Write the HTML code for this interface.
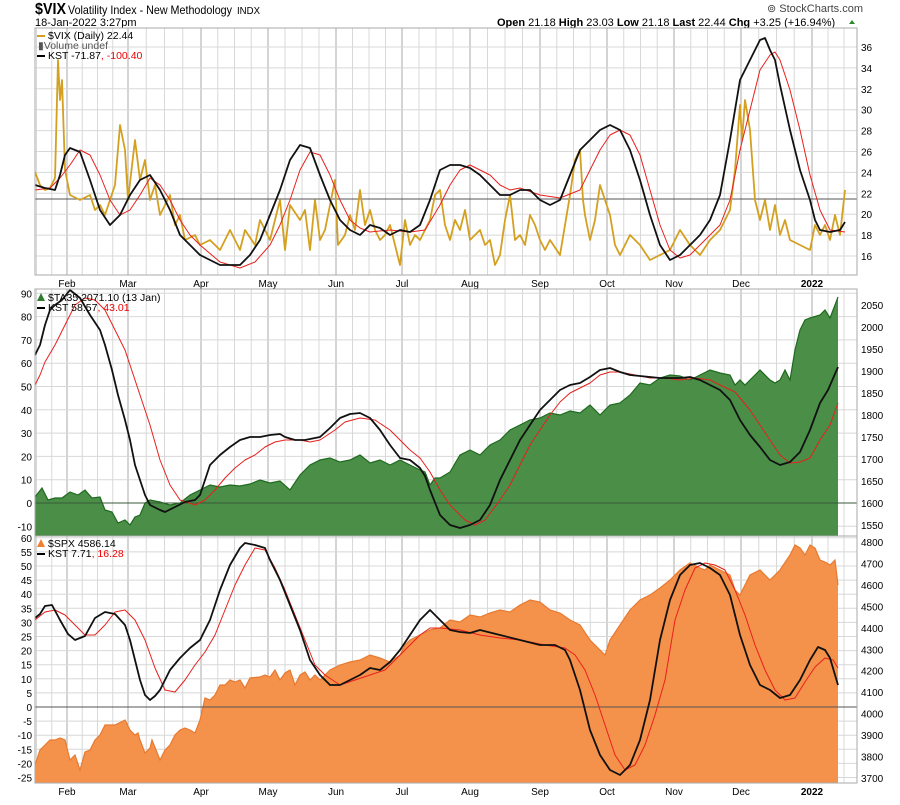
<!DOCTYPE html>
<html><head><meta charset="utf-8"><style>
body{margin:0;background:#fff;width:900px;height:800px;overflow:hidden;font-family:"Liberation Sans",sans-serif}
svg text{font-family:"Liberation Sans",sans-serif}
</style></head><body>
<svg id="s" width="900" height="800" xmlns="http://www.w3.org/2000/svg">
<text x="35" y="14" font-size="16" font-weight="bold" textLength="31" lengthAdjust="spacingAndGlyphs">$VIX</text>
<text x="68" y="14" font-size="12" textLength="164" lengthAdjust="spacingAndGlyphs">Volatility Index - New Methodology</text>
<text x="237" y="14" font-size="10" textLength="23" lengthAdjust="spacingAndGlyphs">INDX</text>
<text x="35" y="26" font-size="11">18-Jan-2022 3:27pm</text>
<text x="767" y="12" font-size="11" fill="#444">⊚ StockCharts.com</text>
<text x="497" y="26" font-size="11"><tspan font-weight="bold">Open</tspan> 21.18  <tspan font-weight="bold">High</tspan> 23.03  <tspan font-weight="bold">Low</tspan> 21.18  <tspan font-weight="bold">Last</tspan> 22.44  <tspan font-weight="bold">Chg</tspan> +3.25 (+16.94%)</text>
<polygon points="849,24 855,24 852,20" fill="#2a8a2a"/>
<g id="grid"></g>
<g id="data"></g>
<g id="fg"></g>
</svg>
<script>
const NS="http://www.w3.org/2000/svg";
function el(p,t,a,txt){const e=document.createElementNS(NS,t);for(const k in a)e.setAttribute(k,a[k]);if(txt!==undefined)e.textContent=txt;document.getElementById(p).appendChild(e);return e;}
const L=35,R=857;
const months=[[67,"Feb"],[128,"Mar"],[201,"Apr"],[268,"May"],[336,"Jun"],[402,"Jul"],[470,"Aug"],[540,"Sep"],[607,"Oct"],[674,"Nov"],[741,"Dec"],[812,"2022"]];
const panels=[[28,275],[289,536],[536,783]];
let mx=[];let prev=6;for(const [x] of months){for(let i=1;i<4;i++)mx.push(prev+(x-prev)*i/4);prev=x;}
for(let i=1;i<3;i++)mx.push(812+i*16);
for(const [t,b] of panels){
 for(const x of mx) if(x>L&&x<R) el("grid","line",{x1:x,x2:x,y1:t,y2:b,stroke:"#d8d8d8","stroke-width":1});
 for(const [x] of months) el("grid","line",{x1:x,x2:x,y1:t,y2:b,stroke:"#a8a8a8","stroke-width":1});
}
function hgrid(t,b,y){if(y>t&&y<b)el("grid","line",{x1:L,x2:R,y1:y,y2:y,stroke:"#d8d8d8"});}
for(let v=16;v<=36;v+=2){const y=256-(v-16)*10.45;hgrid(28,275,y);el("fg","text",{x:861,y:y+4,"font-size":10},v);}
for(let v=-10;v<=90;v+=10){const y=503-v*2.33;hgrid(289,536,y);el("fg","text",{x:32,y:y+4,"font-size":10,"text-anchor":"end"},v);}
for(let v=1550;v<=2050;v+=50){const y=503-(v-1600)*0.44;el("fg","text",{x:861,y:y+4,"font-size":10},v);}
for(let v=-25;v<=60;v+=5){const y=707-v*2.82;hgrid(536,783,y);el("fg","text",{x:32,y:y+4,"font-size":10,"text-anchor":"end"},v);}
for(let v=3700;v<=4800;v+=100){const y=542+(4800-v)*0.2145;el("fg","text",{x:861,y:y+4,"font-size":10},v);}
for(const [x,n] of months){el("fg","text",{x:x,y:287,"font-size":10,"text-anchor":"middle","font-weight":n=="2022"?"bold":"normal"},n);el("fg","text",{x:x,y:795,"font-size":10,"text-anchor":"middle","font-weight":n=="2022"?"bold":"normal"},n);}
function P(s){return s.trim().split(/\)\s*,?\s*\(/).map(p=>p.replace(/[()]/g,"")).join(" ");}
function line(pts,c,w){el("data","polyline",{points:P(pts),fill:"none",stroke:c,"stroke-width":w,"stroke-linejoin":"round"});}
function area(pts,bot,fc,lc){const p=P(pts);const a=p.split(" ");const fx=a[0].split(",")[0],lx=a[a.length-1].split(",")[0];el("data","polygon",{points:fx+","+bot+" "+p+" "+lx+","+bot,fill:fc});el("data","polyline",{points:p,fill:"none",stroke:lc,"stroke-width":1.2});}
el("data","line",{x1:L,x2:R,y1:199,y2:199,stroke:"#555"});
line("(35,172),(40,185),(45,190),(50,188),(55,178),(58,60),(60,100),(62,80),(65,170),(70,195),(80,200),(90,195),(95,210),(100,205),(105,215),(110,200),(115,185),(120,125),(125,150),(128,200),(135,140),(140,180),(145,160),(150,200),(155,185),(160,215),(170,195),(175,225),(180,215),(185,240),(195,235),(200,245),(210,240),(220,250),(230,230),(240,250),(245,230),(255,245),(260,220),(270,240),(280,200),(285,250),(290,205),(300,220),(305,210),(310,250),(315,200),(320,240),(325,230),(330,205),(335,180),(338,245),(345,235),(350,215),(355,230),(360,190),(365,225),(370,210),(375,230),(380,240),(385,235),(390,225),(395,245),(400,265),(405,220),(410,245),(415,235),(420,240),(430,220),(435,195),(440,190),(445,225),(450,240),(455,220),(460,230),(465,210),(470,240),(475,235),(480,230),(485,245),(490,240),(495,265),(500,255),(505,220),(510,195),(515,240),(520,235),(525,245),(530,215),(535,225),(540,240),(545,250),(550,240),(560,255),(570,195),(575,160),(580,150),(583,200),(585,215),(590,240),(595,220),(600,185),(605,200),(610,215),(615,245),(620,255),(630,235),(640,245),(650,260),(660,255),(670,250),(680,230),(690,245),(700,255),(710,240),(720,230),(725,220),(730,210),(735,170),(740,105),(742,140),(745,100),(750,130),(755,200),(760,220),(765,200),(770,230),(775,205),(780,235),(785,220),(790,240),(800,245),(810,250),(815,225),(820,235),(825,225),(830,240),(835,215),(840,235),(845,190)","#d4a020",1.8);
line("(35,190),(50,188),(60,178),(70,165),(80,150),(90,155),(100,175),(110,200),(120,215),(130,210),(140,195),(150,178),(160,185),(170,200),(180,220),(190,235),(200,245),(220,262),(240,268),(255,262),(270,245),(280,225),(290,200),(300,170),(310,152),(320,155),(330,175),(340,200),(350,220),(360,228),(370,232),(390,230),(410,232),(425,230),(440,205),(450,185),(460,170),(470,165),(480,170),(490,175),(500,185),(510,190),(520,188),(540,195),(560,198),(580,190),(590,170),(600,150),(610,135),(620,130),(630,135),(640,155),(650,190),(660,225),(670,250),(680,258),(690,255),(700,245),(710,235),(720,225),(730,200),(740,150),(750,110),(760,70),(770,55),(775,52),(780,60),(790,90),(800,130),(810,175),(820,210),(830,230),(845,232)","#e8201c",1);
line("(35,185),(45,188),(55,190),(60,175),(65,155),(70,148),(80,152),(90,180),(100,210),(110,225),(120,215),(130,195),(140,180),(150,175),(160,190),(170,210),(180,235),(190,245),(200,255),(220,265),(240,265),(250,255),(260,240),(270,215),(280,190),(290,160),(300,145),(310,148),(320,175),(330,200),(340,220),(350,230),(360,235),(370,225),(380,228),(390,235),(400,230),(410,232),(420,225),(430,200),(440,170),(450,165),(460,165),(470,168),(480,175),(490,185),(500,195),(510,195),(520,190),(530,190),(540,200),(550,205),(560,200),(570,175),(580,150),(590,140),(600,130),(610,125),(620,130),(630,150),(640,180),(650,215),(660,245),(670,260),(680,255),(690,245),(700,235),(710,220),(720,195),(730,140),(740,80),(750,60),(760,40),(765,38),(770,50),(775,60),(780,85),(790,130),(800,170),(810,200),(815,220),(820,230),(830,232),(840,230),(845,222)","#111",1.8);
area("(35,497),(42,488),(48,500),(55,498),(62,498),(70,492),(78,495),(85,490),(92,498),(100,497),(105,510),(112,512),(118,523),(125,520),(130,525),(135,517),(140,515),(145,503),(150,500),(160,502),(170,505),(180,503),(190,495),(200,490),(210,485),(220,487),(230,485),(240,486),(250,484),(260,480),(270,483),(280,481),(290,490),(300,475),(310,465),(320,460),(330,458),(340,462),(350,460),(360,455),(370,463),(380,460),(390,465),(400,460),(410,465),(420,470),(425,472),(430,485),(435,478),(440,478),(450,472),(460,455),(470,450),(480,455),(490,445),(500,440),(510,430),(520,425),(530,420),(540,418),(550,413),(560,415),(570,411),(580,413),(590,405),(600,415),(610,405),(620,403),(630,395),(640,383),(650,385),(660,378),(670,375),(680,376),(690,380),(700,375),(710,370),(720,373),(730,375),(735,385),(740,380),(745,385),(755,375),(760,370),(770,380),(775,383),(780,380),(785,370),(790,380),(795,350),(800,330),(805,320),(810,318),(820,315),(825,310),(830,318),(835,305),(838,297)",536,"#4a8e48","#1e6a1e");
el("data","line",{x1:L,x2:R,y1:503,y2:503,stroke:"#3a5a3a"});
line("(35,385),(40,375),(45,362),(55,345),(65,325),(75,305),(85,298),(95,300),(105,310),(115,330),(125,350),(130,365),(140,395),(150,425),(160,460),(170,485),(180,500),(195,505),(205,500),(215,490),(225,478),(235,468),(245,460),(255,455),(265,447),(275,442),(285,440),(300,440),(310,442),(320,440),(335,430),(345,422),(360,418),(375,420),(390,430),(400,440),(410,450),(420,458),(430,472),(440,490),(450,505),(465,520),(475,525),(485,520),(500,500),(510,485),(520,465),(530,445),(540,430),(550,415),(560,402),(570,393),(580,388),(590,383),(600,375),(610,372),(620,372),(635,375),(650,378),(665,378),(680,380),(695,378),(710,380),(720,385),(735,392),(750,410),(760,425),(770,440),(780,455),(790,463),(800,462),(810,458),(820,440),(830,425),(838,403)","#e8201c",1);
line("(35,355),(40,345),(45,325),(50,310),(55,305),(62,300),(70,290),(80,298),(90,315),(100,330),(105,345),(112,370),(118,395),(125,420),(130,440),(135,465),(140,480),(145,495),(150,505),(160,510),(165,512),(175,507),(185,502),(195,500),(200,495),(205,480),(210,465),(220,455),(230,447),(240,440),(250,437),(260,437),(270,435),(280,434),(285,437),(295,440),(305,440),(320,437),(330,428),(340,418),(350,414),(360,413),(370,418),(380,430),(390,445),(400,458),(410,460),(420,468),(425,476),(430,490),(440,515),(450,525),(460,528),(470,525),(480,520),(490,505),(500,480),(510,460),(520,440),(530,425),(540,410),(550,400),(560,390),(570,385),(580,383),(590,377),(600,370),(610,368),(620,372),(630,375),(640,376),(650,377),(660,378),(670,378),(680,378),(690,377),(700,380),(710,385),(720,390),(730,400),(740,420),(750,435),(760,447),(770,460),(780,465),(790,462),(800,452),(810,430),(820,403),(828,390),(838,367)","#111",1.8);
area("(35,765),(40,750),(45,745),(50,740),(55,740),(60,738),(65,740),(70,760),(75,755),(80,770),(85,752),(90,750),(95,740),(100,735),(105,725),(115,725),(125,720),(130,730),(135,735),(138,733),(140,740),(145,753),(150,748),(152,740),(160,760),(165,750),(170,745),(175,735),(180,730),(185,728),(190,730),(195,733),(200,720),(205,698),(210,700),(215,695),(220,685),(225,685),(230,680),(235,682),(240,680),(245,688),(250,678),(260,677),(265,675),(270,677),(275,670),(280,680),(285,673),(290,670),(295,685),(300,675),(305,672),(310,680),(315,675),(320,680),(330,670),(340,665),(350,662),(360,660),(370,655),(380,658),(390,662),(400,655),(405,645),(410,640),(420,635),(430,630),(440,628),(450,620),(460,622),(470,615),(480,617),(490,613),(500,610),(510,612),(520,605),(530,600),(540,602),(550,610),(560,613),(570,620),(580,625),(590,640),(600,650),(605,655),(610,640),(620,625),(630,610),(640,600),(650,595),(660,588),(670,580),(680,570),(690,563),(700,568),(705,570),(710,565),(720,570),(730,575),(735,590),(740,595),(750,575),(760,570),(770,580),(780,570),(790,555),(795,545),(800,548),(805,555),(810,545),(815,548),(820,560),(825,562),(830,565),(835,560),(838,585)",783,"#f4914a","#e87a30");
el("data","line",{x1:L,x2:R,y1:707,y2:707,stroke:"#555"});
line("(35,620),(45,612),(55,610),(65,615),(75,625),(85,635),(95,635),(105,625),(115,612),(125,610),(135,620),(145,640),(155,668),(165,690),(175,692),(185,680),(195,665),(205,652),(215,635),(225,610),(235,585),(245,565),(255,548),(265,550),(275,568),(285,590),(295,615),(305,640),(315,665),(325,675),(340,685),(355,680),(370,675),(385,670),(400,655),(410,645),(420,635),(430,628),(440,628),(460,630),(480,635),(500,638),(520,640),(545,645),(565,648),(575,655),(585,670),(595,695),(605,725),(615,755),(625,770),(635,765),(645,745),(655,715),(665,680),(675,620),(685,590),(695,568),(705,563),(715,565),(725,570),(735,590),(745,615),(755,645),(765,670),(775,690),(785,700),(795,698),(805,682),(815,667),(825,658),(833,660),(838,668)","#e8201c",1);
line("(35,618),(40,614),(45,606),(52,605),(60,620),(68,634),(75,640),(85,636),(95,618),(105,612),(115,614),(125,625),(130,640),(135,660),(140,680),(145,695),(150,700),(155,696),(160,690),(170,670),(180,658),(190,648),(200,640),(210,620),(220,590),(230,565),(240,548),(245,543),(255,545),(265,548),(270,560),(280,580),(290,605),(300,630),(310,660),(320,675),(330,685),(340,685),(350,680),(360,675),(370,668),(380,670),(390,662),(400,650),(410,635),(420,620),(430,610),(440,620),(450,630),(460,632),(470,633),(480,630),(500,635),(520,640),(540,645),(555,645),(565,650),(570,660),(580,690),(590,730),(600,755),(610,770),(620,775),(630,765),(640,740),(650,700),(660,640),(670,600),(680,575),(690,565),(700,563),(710,568),(720,575),(730,595),(740,635),(750,665),(760,685),(770,690),(780,698),(790,695),(800,680),(810,660),(818,647),(825,650),(830,658),(838,685)","#111",1.8);
for(const [t,b] of panels) el("fg","rect",{x:L,y:t,width:R-L,height:b-t,fill:"none",stroke:"#aaa"});
function leg(y,html){const g=el("fg","text",{x:38,y:y,"font-size":10.5});g.innerHTML=html;}
el("fg","rect",{x:37,y:35,width:8,height:2,fill:"#d4a020"});leg(39,'<tspan x="48">$VIX (Daily) 22.44</tspan>');
leg(49,'<tspan x="38" fill="#555">▮Volume undef</tspan>');
el("fg","rect",{x:37,y:55,width:8,height:2,fill:"#000"});leg(59,'<tspan x="48">KST -71.87</tspan><tspan fill="#e00">, -100.40</tspan>');
el("fg","polygon",{points:"37,301 41,293 45,301",fill:"#2e7d32"});leg(301,'<tspan x="48">$TA35 2071.10 (13 Jan)</tspan>');
el("fg","rect",{x:37,y:307,width:8,height:2,fill:"#000"});leg(311,'<tspan x="48">KST 58.57</tspan><tspan fill="#e00">, 43.01</tspan>');
el("fg","polygon",{points:"37,547 41,539 45,547",fill:"#f08030"});leg(547,'<tspan x="48">$SPX 4586.14</tspan>');
el("fg","rect",{x:37,y:553,width:8,height:2,fill:"#000"});leg(557,'<tspan x="48">KST 7.71</tspan><tspan fill="#e00">, 16.28</tspan>');
</script>
</body></html>
